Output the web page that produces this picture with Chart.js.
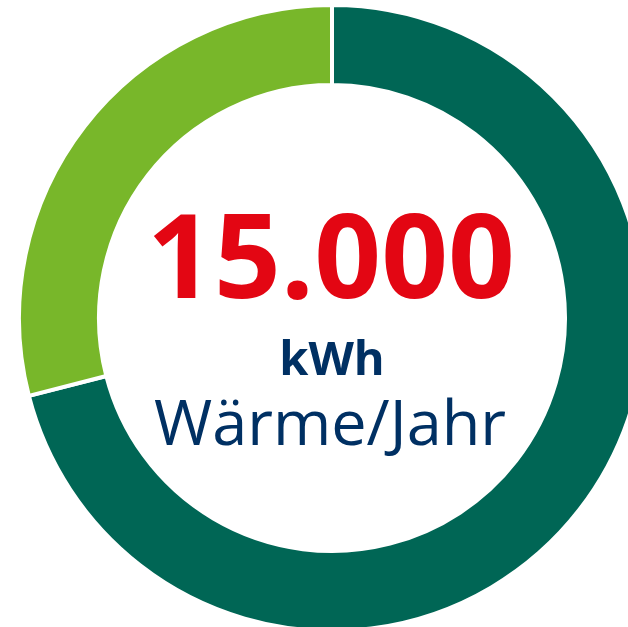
<!DOCTYPE html>
<html>
<head>
<meta charset="utf-8">
<script src="https://cdn.jsdelivr.net/npm/chart.js@4"></script>
<style>
  html, body { margin: 0; padding: 0; background: #fff; overflow: hidden; }
  #wrap { position: relative; width: 628px; height: 627px; overflow: hidden; }
  #ring { position: absolute; left: 17px; top: 3px; }
</style>
</head>
<body>
<div id="wrap">
  <canvas id="ring" width="630" height="630"></canvas>
</div>
<script>
// share of the yearly heat
const labels = ['Anteil A', 'Anteil B'];
const shares = [71, 29];
const sliceColors = ['#006655', '#78b72a'];
// text in the middle
const bigValue = '15.000';
const unitText = 'kWh';
const captionText = 'Wärme/Jahr';

//draws the three lines in the hole
const centerText = {
  id: 'centerText',
  afterDraw(chart) {
    const ctx = chart.ctx;
    const arc = chart.getDatasetMeta(0).data[0];
    const cx = arc.x;
    const cy = arc.y;
    ctx.save();
    ctx.textAlign = 'center';
    ctx.textBaseline = 'alphabetic';
    ctx.fillStyle = '#e30613';
    ctx.font = 'bold 117px "Open Sans"';
    ctx.fillText(bigValue, cx - 1, cy - 20);
    ctx.fillStyle = '#003063';
    ctx.font = 'bold 47px "Open Sans"';
    ctx.fillText(unitText, cx, cy + 57);
    ctx.font = '63px "Open Sans"';
    ctx.fillText(captionText, cx - 2, cy + 127);
    ctx.restore();
  }
};

new Chart(document.getElementById('ring'), {
  type: 'doughnut',
  plugins: [centerText],
  data: {
    labels: labels,
    datasets: [{
      data: shares,
      backgroundColor: sliceColors,
      borderColor: '#ffffff',
      borderWidth: 4,
      hoverOffset: 0
    }]
  },
  options: {
    responsive: false,
    animation: false,
    cutout: 233,
    layout: { padding: 0 },
    plugins: {
      legend: { display: false },
      tooltip: { enabled: false }
    }
  }
});
</script>
</body>
</html>
